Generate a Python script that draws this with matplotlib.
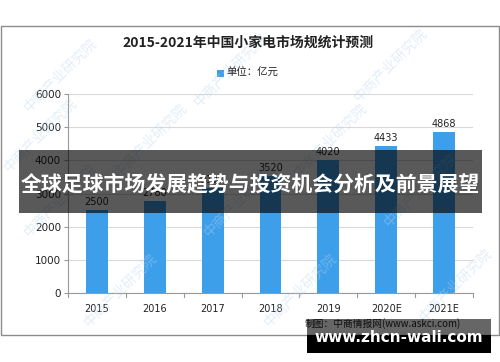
import matplotlib
matplotlib.use("Agg")
import matplotlib.pyplot as plt
from matplotlib.patches import Rectangle

plt.rcParams['font.family'] = ['Noto Sans CJK SC', 'DejaVu Sans']

categories = ["2015", "2016", "2017", "2018", "2019", "2020E", "2021E"]
values = [2500, 2780, 3170, 3520, 4020, 4433, 4868]
shown_labels = ["2500", "2780", "3170", "3520", "4020", "4433", "4868"]
yticks = [0, 1000, 2000, 3000, 4000, 5000, 6000]
title = "2015-2021年中国小家电市场规统计预测"
legend_label = "单位：亿元"
source = "制图：中商情报网(www.askci.com)"
banner = "全球足球市场发展趋势与投资机会分析及前景展望"
site = "www.zhcn-wali.com"

W, H = 500, 362
fig = plt.figure(figsize=(5, 3.62), dpi=100)
fig.patch.set_facecolor("white")

def fx(x):
    return x / W

def fy(y):
    return 1 - y / H

# outer frame
fig.patches.append(Rectangle((fx(1), fy(335)), fx(498), (334 - 25) / H,
                             transform=fig.transFigure, fill=False,
                             edgecolor="#8c8c8c", linewidth=1.0, zorder=0))

# watermarks
for (wx, wy) in [(60, 75), (230, 70), (390, 65), (60, 200), (240, 200), (420, 190),
                 (120, 290), (300, 290), (455, 285), (150, 140), (330, 140), (40, 135)]:
    fig.text(fx(wx), fy(wy), "中商产业研究院", rotation=45, fontsize=10,
             color="#b9d3ee", alpha=0.4, ha="center", va="center", zorder=1)

ax = fig.add_axes([fx(68), fy(293), (473 - 68) / W, (293 - 94) / H])
ax.set_facecolor("none")
x = range(len(categories))
bars = ax.bar(x, values, width=0.38, color="#3d9fea", zorder=3)
for xi, v, lab in zip(x, values, shown_labels):
    ax.text(xi, v + 90, lab, ha="center", va="bottom", fontsize=7,
            family=["DejaVu Sans"], color="#222222", zorder=4)

ax.set_xlim(-0.5, len(categories) - 0.5)
ax.set_ylim(0, 6000)
ax.set_yticks(yticks)
ax.set_yticklabels([str(t) for t in yticks], fontsize=7.5, family=["DejaVu Sans"], color="#222222")
ax.set_xticks(list(x))
ax.set_xticklabels(categories, fontsize=7, family=["DejaVu Sans"], color="#222222")
ax.tick_params(axis="x", length=0, pad=8)
ax.tick_params(axis="y", length=3, color="#999999", pad=2)
for xb in [i - 0.5 for i in range(len(categories) + 1)]:
    ax.plot([xb, xb], [0, -120], color="#999999", linewidth=0.8, clip_on=False, zorder=2)
ax.grid(axis="y", color="#d9d9d9", linewidth=0.8, zorder=0)
for s in ["top", "right"]:
    ax.spines[s].set_visible(False)
ax.spines["left"].set_color("#999999")
ax.spines["bottom"].set_color("#999999")

fig.text(fx(248), fy(43), title, ha="center", va="center", fontsize=10,
         fontweight="bold", color="#222222")
fig.patches.append(Rectangle((fx(217), fy(77)), 7 / W, 7 / H, transform=fig.transFigure,
                             facecolor="#3d9fea", edgecolor="none"))
fig.text(fx(226), fy(73), legend_label, ha="left", va="center", fontsize=7.5, color="#222222")

fig.text(fx(305), fy(324), source, ha="left", va="center", fontsize=7, color="#222222")

# overlays
fig.patches.append(Rectangle((fx(19), fy(213)), (482 - 19) / W, (213 - 150) / H,
                             transform=fig.transFigure, facecolor="black", alpha=0.65,
                             edgecolor="none", zorder=10))
fig.text(fx(250), fy(184), banner, ha="center", va="center", fontsize=15,
         fontweight="bold", color="white", zorder=11)

fig.patches.append(Rectangle((fx(307), fy(335)), (491 - 307) / W, (335 - 319) / H,
                             transform=fig.transFigure, facecolor="black", alpha=0.6,
                             edgecolor="none", zorder=10))
fig.patches.append(Rectangle((fx(307), fy(353)), (491 - 307) / W, (353 - 335) / H,
                             transform=fig.transFigure, facecolor="black",
                             edgecolor="none", zorder=10))
fig.text(fx(399), fy(337), site, ha="center", va="center", fontsize=11,
         fontweight="bold", color="white", family=["DejaVu Sans"], zorder=11)

fig.savefig("out.png", dpi=100, facecolor="white")
